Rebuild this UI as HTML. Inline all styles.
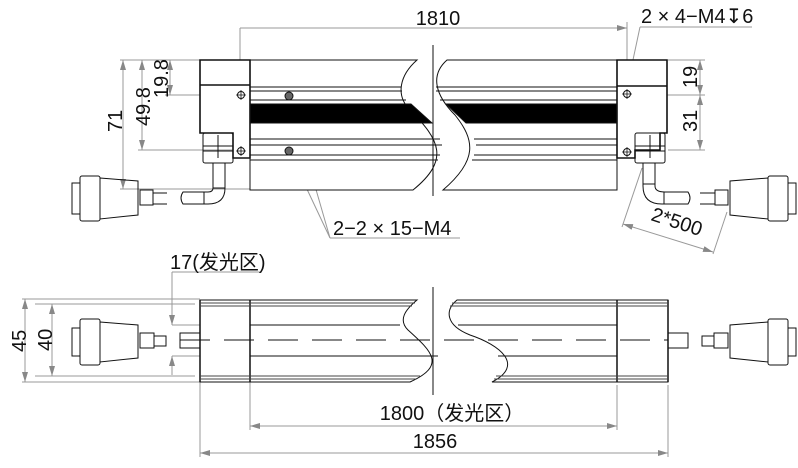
<!DOCTYPE html>
<html><head><meta charset="utf-8"><style>html,body{margin:0;padding:0;background:#fff}svg{display:block}text{font-family:"Liberation Sans","Noto Sans CJK SC",sans-serif;fill:#111}</style></head><body>
<svg width="798" height="468" viewBox="0 0 798 468" xmlns="http://www.w3.org/2000/svg">
<defs><marker id="a" viewBox="0 0 10 6" refX="10" refY="3" markerWidth="10" markerHeight="6" orient="auto-start-reverse"><path d="M0,0L10,3L0,6z" fill="#888"/></marker></defs>
<g fill="none" stroke="#999" stroke-width="1">
<line x1="240" y1="28" x2="627" y2="28" marker-end="url(#a)"/>
<line x1="240" y1="28" x2="240" y2="95"/><line x1="627" y1="22" x2="627" y2="100"/>
<line x1="120" y1="60" x2="200" y2="60"/><line x1="165" y1="95" x2="242" y2="95"/>
<line x1="138" y1="150" x2="242" y2="150"/><line x1="120" y1="189" x2="250" y2="189"/>
<line x1="123" y1="60" x2="123" y2="189" marker-start="url(#a)" marker-end="url(#a)"/>
<line x1="142" y1="60" x2="142" y2="150" marker-start="url(#a)" marker-end="url(#a)"/>
<line x1="170" y1="60" x2="170" y2="95" marker-start="url(#a)" marker-end="url(#a)"/>
<line x1="668" y1="60" x2="705" y2="60"/><line x1="627" y1="95" x2="705" y2="95"/><line x1="668" y1="150" x2="705" y2="150"/>
<line x1="700" y1="60" x2="700" y2="95" marker-start="url(#a)" marker-end="url(#a)"/>
<line x1="700" y1="95" x2="700" y2="150" marker-start="url(#a)" marker-end="url(#a)"/>
<line x1="640" y1="27" x2="752" y2="27"/><line x1="640" y1="27" x2="627" y2="88"/>
<line x1="289" y1="96" x2="330" y2="238"/><line x1="289" y1="151" x2="330" y2="238"/><line x1="330" y1="238" x2="460" y2="238"/>
<line x1="642" y1="168" x2="622" y2="227"/><line x1="727" y1="212" x2="713" y2="254"/>
<line x1="623" y1="224" x2="713" y2="252" marker-start="url(#a)" marker-end="url(#a)"/>
<line x1="22" y1="299" x2="200" y2="299"/><line x1="22" y1="382" x2="200" y2="382"/>
<line x1="35" y1="304" x2="195" y2="304"/><line x1="35" y1="376" x2="195" y2="376"/>
<line x1="25" y1="299" x2="25" y2="382" marker-start="url(#a)" marker-end="url(#a)"/>
<line x1="52" y1="304" x2="52" y2="376" marker-start="url(#a)" marker-end="url(#a)"/>
<line x1="172" y1="272" x2="262" y2="272"/><line x1="172" y1="272" x2="172" y2="325" marker-end="url(#a)"/>
<line x1="172" y1="375" x2="172" y2="356" marker-end="url(#a)"/>
<line x1="172" y1="325" x2="250" y2="325"/><line x1="172" y1="356" x2="250" y2="356"/>
<line x1="250" y1="382" x2="250" y2="430"/><line x1="617" y1="385" x2="617" y2="430"/>
<line x1="200" y1="382" x2="200" y2="457"/><line x1="668" y1="385" x2="668" y2="457"/>
<line x1="250" y1="426" x2="617" y2="426" marker-start="url(#a)" marker-end="url(#a)"/>
<line x1="200" y1="453" x2="668" y2="453" marker-start="url(#a)" marker-end="url(#a)"/>
</g>
<g fill="none" stroke="#111" stroke-width="1">
<path d="M250,60H417C400,75 395,95 410,110C440,140 450,160 413,190H250Z" fill="#fff"/>
<path d="M447,60H617V190H443C478,160 475,140 455,115C435,95 430,75 447,60Z" fill="#fff"/>
<line x1="250" y1="87" x2="401" y2="87"/><line x1="436" y1="87" x2="617" y2="87"/>
<line x1="250" y1="91" x2="402" y2="91"/><line x1="436" y1="91" x2="617" y2="91"/>
<line x1="250" y1="100" x2="406" y2="100"/><line x1="440" y1="100" x2="617" y2="100"/>
<line x1="250" y1="139" x2="440" y2="139"/><line x1="474" y1="139" x2="617" y2="139"/>
<line x1="250" y1="145" x2="442" y2="145"/><line x1="476" y1="145" x2="617" y2="145"/>
<line x1="250" y1="155" x2="440" y2="155"/><line x1="474" y1="155" x2="617" y2="155"/>
<line x1="250" y1="160" x2="438" y2="160"/><line x1="472" y1="160" x2="617" y2="160"/>
<path d="M250,104H411L432,123H250Z" fill="#000"/>
<path d="M446,104H617V123H466Z" fill="#000"/>
<path d="M200,60H250V158H233V133H200Z" stroke-width="1.6" fill="#fff"/>
<line x1="200" y1="85" x2="250" y2="85" stroke-width="1.5"/>
<path d="M617,60H667V133H660V150H635V158H617Z" stroke-width="1.6" fill="#fff"/>
<line x1="617" y1="86" x2="667" y2="86" stroke-width="1.5"/>
<rect x="203" y="133" width="30" height="30" rx="2"/><line x1="203" y1="146" x2="233" y2="146"/><line x1="203" y1="151" x2="233" y2="151"/><line x1="218" y1="135" x2="218" y2="158"/>
<rect x="635" y="133" width="30" height="30" rx="2"/><line x1="635" y1="146" x2="665" y2="146"/><line x1="635" y1="151" x2="665" y2="151"/><line x1="650" y1="135" x2="650" y2="158"/>
<path d="M213,163V188Q213,192 208,192H183Q179,198 183,204H208Q225,204 225,188V163"/><line x1="213" y1="188" x2="225" y2="188"/><line x1="204" y1="192" x2="204" y2="204"/>
<path d="M643,163V186Q643,204 662,204H688Q692,198 688,192H665Q655,192 655,186V163"/><line x1="643" y1="184" x2="655" y2="184"/><line x1="664" y1="192" x2="664" y2="204"/>
<circle cx="241" cy="95" r="3.5"/><circle cx="241" cy="151" r="3.5"/>
<circle cx="627" cy="94" r="3.5"/><circle cx="627" cy="152" r="3.5"/>
<path d="M236,95h10M241,90v10M236,151h10M241,146v10M622,94h10M627,89v10M622,152h10M627,147v10" stroke-width="0.8"/>
<circle cx="289" cy="96" r="4" fill="#666"/><circle cx="289" cy="151" r="4" fill="#666"/>
<rect x="72" y="183" width="8" height="31"/><rect x="80" y="176" width="20" height="45" rx="2"/>
<path d="M100,178L138,181V215L100,219Z"/><rect x="140" y="190" width="13" height="15"/><path d="M153,193H167M153,204H167"/>
<rect x="788" y="183" width="8" height="31"/><rect x="768" y="176" width="20" height="45" rx="2"/>
<path d="M768,178L730,181V215L768,219Z"/><rect x="715" y="190" width="13" height="15"/><path d="M700,193H715M700,204H715"/>
<line x1="433" y1="45" x2="433" y2="196"/>
<path d="M200,300H417C405,310 398,320 408,330C430,350 448,365 410,382H200Z" fill="#fff"/>
<path d="M457,300H668V382H492C525,365 500,345 470,335C445,325 445,310 457,300Z" fill="#fff"/>
<path d="M200,300V382M250,300V382M617,300V382M668,300V382" stroke-width="1.5"/>
<path d="M200,303H415M452,303H668M200,306H412M450,306H668M200,376H420M496,376H668M200,379H416M494,379H668" stroke="#444"/>
<path d="M250,325H400M458,325H617M250,356H438M498,356H617"/>
<path d="M180,340H668" stroke-dasharray="30,14"/>
<line x1="433" y1="287" x2="433" y2="395"/>
<rect x="180" y="333" width="20" height="15"/><rect x="668" y="333" width="20" height="15"/>
<rect x="72" y="328" width="8" height="28"/><rect x="80" y="319" width="20" height="46" rx="2"/>
<path d="M100,322L138,325V358L100,362Z"/><rect x="140" y="333" width="14" height="15"/><rect x="154" y="336" width="12" height="10"/>
<rect x="788" y="328" width="8" height="28"/><rect x="768" y="319" width="20" height="46" rx="2"/>
<path d="M768,322L730,325V358L768,362Z"/><rect x="714" y="333" width="14" height="15"/><rect x="702" y="336" width="12" height="10"/>
</g>
<text x="438" y="25" font-size="20" text-anchor="middle">1810</text>
<text x="641" y="23" font-size="20">2 × 4−M4↧6</text>
<text x="333" y="235" font-size="20">2−2 × 15−M4</text>
<text transform="translate(650,220) rotate(18)" font-size="20">2*500</text>
<text transform="translate(122,132) rotate(-90)" font-size="20">71</text>
<text transform="translate(150,126) rotate(-90)" font-size="20">49.8</text>
<text transform="translate(168,98) rotate(-90)" font-size="20">19.8</text>
<text transform="translate(697,88) rotate(-90)" font-size="20">19</text>
<text transform="translate(697,132) rotate(-90)" font-size="20">31</text>
<text x="170" y="269" font-size="20">17(发光区)</text>
<text transform="translate(26,352) rotate(-90)" font-size="20">45</text>
<text transform="translate(52,351) rotate(-90)" font-size="20">40</text>
<text x="452" y="420" font-size="20" text-anchor="middle">1800（发光区）</text>
<text x="435" y="448" font-size="20" text-anchor="middle">1856</text>
</svg>
</body></html>
